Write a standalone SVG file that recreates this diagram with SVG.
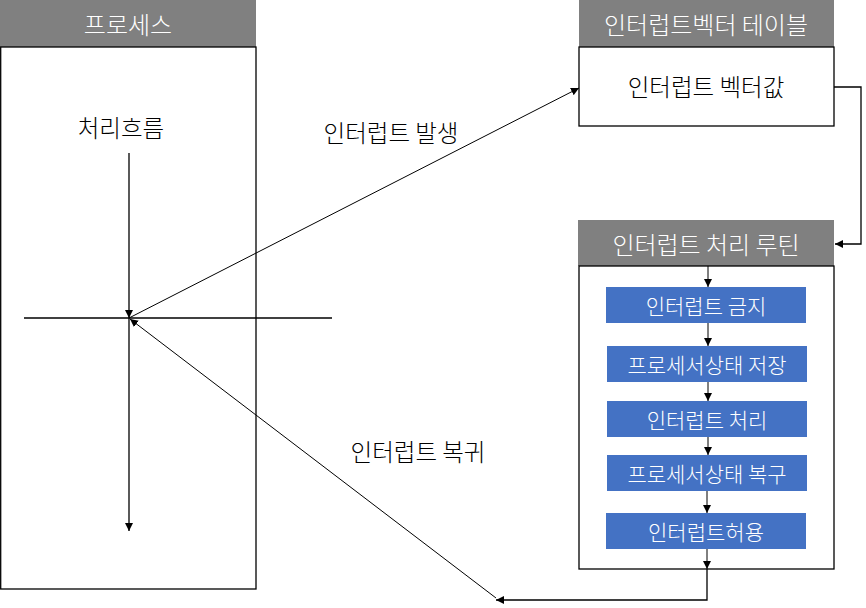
<svg xmlns="http://www.w3.org/2000/svg" width="866" height="608" viewBox="0 0 866 608">
<style>
text{font-family:"Noto Sans CJK KR","Noto Sans",sans-serif;text-anchor:middle;dominant-baseline:central;font-weight:300}
.hd{fill:#808080}
.hdt{fill:#ffffff;font-size:24px}
.box{fill:#ffffff;stroke:#000000;stroke-width:1.3}
.lbl{fill:#000000;font-size:23.5px}
.blue{fill:#4472C4}
.bt{fill:#ffffff;font-size:21px}
.ln{fill:none;stroke:#000000;stroke-width:1}
.ln2{fill:none;stroke:#000000;stroke-width:1.3}
</style>
<defs>
<marker id="ah" viewBox="0 0 10 10" refX="10" refY="5" markerWidth="8" markerHeight="8" markerUnits="userSpaceOnUse" orient="auto">
<path d="M0,0 L10,5 L0,10 z" fill="#000000"/>
</marker>
</defs>
<rect width="866" height="608" fill="#ffffff"/>
<g id="process">
<rect class="hd" x="0" y="0" width="256" height="47"/>
<text class="hdt" x="128" y="23">프로세스</text>
<rect class="box" x="0.7" y="47" width="255.3" height="542"/>
<text class="lbl" x="121" y="127">처리흐름</text>
</g>
<g id="vector-table">
<rect class="hd" x="579" y="0" width="255" height="47"/>
<text class="hdt" x="706" y="23">인터럽트벡터 테이블</text>
<rect class="box" x="579" y="47" width="255" height="79"/>
<text class="lbl" x="706" y="86">인터럽트 벡터값</text>
</g>
<g id="routine">
<rect class="hd" x="578" y="220" width="256" height="46"/>
<text class="hdt" x="706" y="243">인터럽트 처리 루틴</text>
<rect class="box" x="579" y="266" width="255" height="303"/>
</g>
<g id="step1"><rect class="blue" x="606" y="287" width="200" height="36"/><text class="bt" x="706" y="305">인터럽트 금지</text></g>
<g id="step2"><rect class="blue" x="607" y="346" width="200" height="36"/><text class="bt" x="707" y="364">프로세서상태 저장</text></g>
<g id="step3"><rect class="blue" x="607" y="401" width="200" height="36"/><text class="bt" x="707" y="419">인터럽트 처리</text></g>
<g id="step4"><rect class="blue" x="607" y="455" width="200" height="36"/><text class="bt" x="707" y="473">프로세서상태 복구</text></g>
<g id="step5"><rect class="blue" x="606" y="513" width="200" height="36"/><text class="bt" x="706" y="531">인터럽트허용</text></g>
<g id="labels">
<text class="lbl" x="391" y="132">인터럽트 발생</text>
<text class="lbl" x="418" y="451">인터럽트 복귀</text>
</g>
<g id="connectors">
<line class="ln2" x1="24" y1="318" x2="332" y2="318"/>
<line class="ln2" x1="129" y1="153" x2="129" y2="318" marker-end="url(#ah)"/>
<line class="ln2" x1="129" y1="318" x2="129" y2="531" marker-end="url(#ah)"/>
<line class="ln" x1="129" y1="318" x2="579" y2="88" marker-end="url(#ah)"/>
<line class="ln" x1="496" y1="598" x2="130" y2="319" marker-end="url(#ah)"/>
<polyline class="ln2" points="834,87 861,87 861,244 835,244" marker-end="url(#ah)"/>
<line class="ln" x1="708" y1="266" x2="708" y2="287" marker-end="url(#ah)"/>
<line class="ln" x1="708" y1="323" x2="708" y2="346" marker-end="url(#ah)"/>
<line class="ln" x1="708" y1="382" x2="708" y2="401" marker-end="url(#ah)"/>
<line class="ln" x1="708" y1="437" x2="708" y2="455" marker-end="url(#ah)"/>
<line class="ln" x1="707" y1="491" x2="707" y2="513" marker-end="url(#ah)"/>
<line class="ln" x1="707" y1="549" x2="707" y2="569" marker-end="url(#ah)"/>
<polyline class="ln2" points="707,569 707,600 496,600" marker-end="url(#ah)"/>
</g>
</svg>
